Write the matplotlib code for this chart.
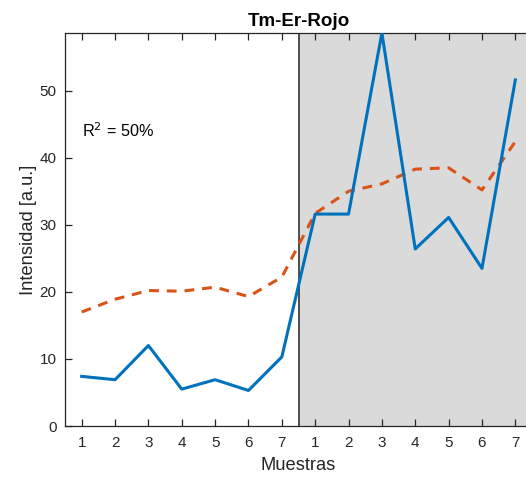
import numpy as np
import matplotlib
matplotlib.use('Agg')
import matplotlib.pyplot as plt

plt.rcParams['font.family'] = ['Liberation Sans', 'DejaVu Sans']

# muestras 1..7 (primer grupo) y 1..7 (segundo grupo)
muestras = [1, 2, 3, 4, 5, 6, 7, 1, 2, 3, 4, 5, 6, 7]
medido = [7.4, 6.9, 12.0, 5.5, 6.9, 5.3, 10.3,
          31.6, 31.6, 58.6, 26.4, 31.1, 23.5, 51.6]
ajuste = [17.0, 18.9, 20.2, 20.1, 20.7, 19.3, 22.2,
          31.7, 35.0, 36.1, 38.3, 38.5, 35.2, 42.4]
r2 = 50

x = np.arange(1, len(medido) + 1)
azul = '#0072BD'
naranja = '#D95319'
gris = '#262626'

fig = plt.figure(figsize=(5.26, 4.83), dpi=100)
ax = fig.add_axes([65 / 526, 57 / 483, 467 / 526, 393 / 483])

# zona sombreada del segundo grupo
ax.axvspan(7.5, 14.5, facecolor='#dadada', edgecolor='none', zorder=0)
ax.axvline(7.5, color='#404040', lw=1.3, zorder=1)

ax.plot(x, medido, color=azul, lw=2.2, zorder=3)
ax.plot(x, ajuste, color=naranja, lw=2.2, ls=(0, (3.2, 2.6)), zorder=2)

ax.text(1, 44, f'R$^2$ = {r2}%', fontsize=11.7, va='center', ha='left', color='black')

ax.set_xlim(0.5, 14.5)
ax.set_ylim(0, 58.6)
ax.set_xticks(x)
ax.set_xticklabels([str(m) for m in muestras])
ax.set_yticks([0, 10, 20, 30, 40, 50])

ax.tick_params(direction='in', length=5, width=0.9, colors=gris, labelsize=11,
               top=True, right=False)
ax.tick_params(axis='x', pad=7)
ax.tick_params(axis='y', pad=6)
for s in ax.spines.values():
    s.set_color(gris)
    s.set_linewidth(0.9)

ax.set_title('Tm-Er-Rojo', fontsize=13.5, fontweight='bold', color='black', pad=5)
ax.set_xlabel('Muestras', fontsize=13.2, color=gris, labelpad=5)
ax.set_ylabel('Intensidad [a.u.]', fontsize=13.2, color=gris, labelpad=2)

fig.savefig('out.png', dpi=100)
